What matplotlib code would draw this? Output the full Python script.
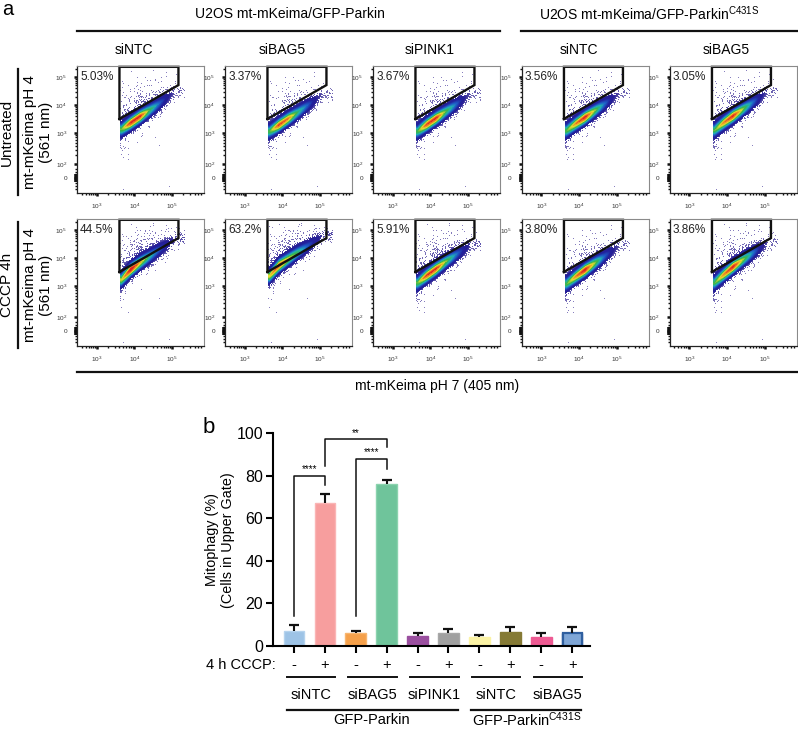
import numpy as np
import matplotlib
matplotlib.use("Agg")
import matplotlib.pyplot as plt
from matplotlib.colors import LinearSegmentedColormap

plt.rcParams['font.family'] = ['Liberation Sans', 'DejaVu Sans']
plt.rcParams['mathtext.default'] = 'regular'

W, H = 798, 729

# --- panel a ---
col_names = ["siNTC", "siBAG5", "siPINK1", "siNTC", "siBAG5"]
row_names = ["Untreated", "CCCP 4h"]
gate_pct = [["5.03%", "3.37%", "3.67%", "3.56%", "3.05%"],
            ["44.5%", "63.2%", "5.91%", "3.80%", "3.86%"]]
gate_x = [3.6, 3.6, 5.17, 5.17, 3.6]
gate_y = [3.5, 5.36, 5.36, 4.71, 3.5]

# The single events cannot be read from the picture, so each cloud is given by
# what can be estimated by eye: ridge height, colour level along the ridge and
# how much scatter sits above / below it
ridge_x = [3.65, 3.9, 4.15, 4.4, 4.65, 4.9, 5.1]
ridge_y = [[[3.12, 3.35, 3.58, 3.80, 4.03, 4.28, 4.50],
            [3.05, 3.27, 3.50, 3.72, 3.96, 4.20, 4.42],
            [3.05, 3.29, 3.52, 3.75, 3.98, 4.22, 4.44],
            [3.08, 3.32, 3.55, 3.78, 4.01, 4.25, 4.47],
            [3.10, 3.36, 3.60, 3.83, 4.06, 4.30, 4.52]],
           [[3.22, 3.58, 3.83, 4.05, 4.28, 4.50, 4.72],
            [3.35, 3.72, 3.95, 4.18, 4.40, 4.63, 4.82],
            [3.10, 3.36, 3.60, 3.85, 4.08, 4.30, 4.50],
            [3.08, 3.33, 3.57, 3.80, 4.03, 4.28, 4.50],
            [3.12, 3.40, 3.68, 3.92, 4.15, 4.38, 4.58]]]
ridge_level = [[[0.50, 0.88, 0.88, 0.52, 0.30, 0.10, 0.03],
                [0.48, 0.85, 0.78, 0.48, 0.30, 0.09, 0.03],
                [0.46, 0.84, 0.88, 0.55, 0.33, 0.09, 0.03],
                [0.46, 0.74, 0.90, 0.60, 0.32, 0.09, 0.03],
                [0.44, 0.74, 0.88, 0.60, 0.33, 0.10, 0.03]],
               [[0.58, 0.95, 0.70, 0.45, 0.27, 0.12, 0.05],
                [0.62, 0.88, 0.64, 0.48, 0.28, 0.12, 0.05],
                [0.48, 0.84, 0.86, 0.58, 0.36, 0.14, 0.04],
                [0.46, 0.76, 0.93, 0.62, 0.30, 0.10, 0.03],
                [0.44, 0.74, 0.90, 0.62, 0.36, 0.12, 0.03]]]
scatter_up = [[0.15, 0.13, 0.14, 0.15, 0.15], [0.15, 0.14, 0.17, 0.12, 0.14]]
scatter_down = [[0.08, 0.08, 0.09, 0.11, 0.13], [0.09, 0.08, 0.09, 0.11, 0.13]]

x_major = [3, 4, 5]
x_minor = [2.6, 2.7, 2.78, 2.85, 2.9, 2.95, 3.3, 3.48, 3.6, 3.7, 3.78, 3.85, 3.9, 3.95,
           4.3, 4.48, 4.6, 4.7, 4.78, 4.85, 4.9, 4.95, 5.3, 5.48, 5.6, 5.7, 5.78]
y_major = [1.89, 3, 4, 5]
y_major_labels = ["10$^{2}$", "10$^{3}$", "10$^{4}$", "10$^{5}$"]
y_minor = [1.0, 1.1, 1.2, 1.55, 1.62, 1.7, 2.2, 2.4, 2.55, 2.65, 2.75, 2.85, 2.92,
           3.3, 3.48, 3.6, 3.7, 3.78, 3.85, 3.92, 4.3, 4.48, 4.6, 4.7, 4.78, 4.85, 4.92, 5.3]

# --- panel b ---
bar_means = [7.0, 67.3, 6.2, 76.0, 4.8, 5.9, 4.4, 6.7, 4.4, 6.3]
bar_tops = [10.0, 71.5, 7.0, 78.0, 6.2, 8.1, 5.2, 8.8, 6.2, 9.0]
bar_colors = ['#9DC3E6', '#F79E9E', '#F5A04A', '#6FC49B', '#9A4F9F',
              '#A0A0A0', '#FBF3A5', '#857A35', '#EE5A93', '#7FA6D6']
bar_edges = ['#B5D3EE', '#FAB5B5', '#F8B670', '#8BD3AE', '#9A4F9F',
             '#A8A8A8', '#FBF3A5', '#857A35', '#EE5A93', '#2F5F9F']
cccp_signs = ['-', '+'] * 5
# left bar, right bar, left foot, height, right foot, stars
brackets = [(0, 1, 14, 80, 75.5, '****'),
            (2, 3, 14, 88, 83, '****'),
            (1, 3, 84.5, 97.3, 93.5, '**')]

jet = LinearSegmentedColormap.from_list('flow', [
    (0.0, '#2A1A8C'), (0.18, '#22229E'), (0.32, '#1F5FC8'), (0.45, '#1FB0B5'),
    (0.6, '#3CB54A'), (0.74, '#E4DE30'), (0.87, '#F08020'), (1.0, '#E02020')])


def ax_px(l, t, r, b):
    return fig.add_axes([l / W, 1 - b / H, (r - l) / W, (b - t) / H])


def halftone(n):
    # fixed threshold screen from a cell hash, so it has no visible lattice
    ix, iy = np.meshgrid(np.arange(n, dtype=np.int64), np.arange(n, dtype=np.int64))
    h = (ix * 73856093) ^ (iy * 19349663)
    h = (h ^ (h >> 13)) & 0xFFFFFFF
    h = (h * 12741261) & 0xFFFFFFF
    h = h ^ (h >> 11)
    return (h % 4096) / 4096


def flow_image(ry, lv, up, down):
    xs = np.linspace(2.47, 5.85, 127)
    ys = np.linspace(0.86, 5.39, 127)
    gx, gy = np.meshgrid(xs, ys)
    r = np.interp(gx, ridge_x, ry)
    level = np.interp(gx, ridge_x, lv)
    taper = np.interp(gx, ridge_x, [1, 1, 0.95, 0.7, 0.35, 0.1, 0.02])
    d = gy - r
    z = level * np.exp(-0.5 * (d / 0.145) ** 2)
    z = z + (d > 0) * up * taper * np.exp(-np.clip(d, 0, None) / 0.36)
    side = np.exp(-0.5 * ((gx - 3.62) / 0.13) ** 2)
    z = z + (d < 0) * (down * side * np.exp(np.clip(d, None, 0) / 0.3)
                       + 0.6 * down * taper * np.exp(np.clip(d, None, 0) / 0.22))
    z[gx < 3.62] = 0
    z[gx > 5.35] = 0
    z = np.clip(z, 0, 1)

    seen = np.clip(z / 0.1, 0, 1)
    rgba = jet(z)
    fade = (1 - seen)[..., None] * 0.45
    rgba[..., :3] = rgba[..., :3] * (1 - fade) + fade
    rgba[seen <= halftone(127)] = (1, 1, 1, 1)
    return rgba


fig = plt.figure(figsize=(W / 100, H / 100), dpi=100)

bg = fig.add_axes([0, 0, 1, 1])
bg.set_xlim(0, W)
bg.set_ylim(H, 0)
bg.axis('off')

col_left = [77, 225, 373, 521.5, 669.5]
row_top = [66, 219]
for i in range(2):
    for j in range(5):
        ax = ax_px(col_left[j], row_top[i], col_left[j] + 127, row_top[i] + 127)
        ax.imshow(flow_image(ridge_y[i][j], ridge_level[i][j], scatter_up[i][j], scatter_down[i][j]),
                  extent=[2.47, 5.85, 0.86, 5.39], origin='lower', aspect='auto',
                  interpolation='nearest')
        ax.plot(gate_x, gate_y, color='#111111', lw=1.7, solid_joinstyle='miter', clip_on=False)
        ax.set_xlim(2.47, 5.85)
        ax.set_ylim(0.86, 5.39)
        ax.text(0.025, 0.915, gate_pct[i][j], transform=ax.transAxes, fontsize=8.5,
                ha='left', va='center', color='#222222')
        for s in ['top', 'right']:
            ax.spines[s].set_color('#8A8A8A')
            ax.spines[s].set_linewidth(0.8)
        for s in ['left', 'bottom']:
            ax.spines[s].set_color('#222222')
            ax.spines[s].set_linewidth(0.9)
        ax.set_xticks(x_major)
        ax.set_xticklabels(["10$^{3}$", "10$^{4}$", "10$^{5}$"], fontsize=4.6, color='#333333')
        ax.set_xticks(x_minor, minor=True)
        ax.set_yticks(y_major + [1.39])
        ax.set_yticklabels(y_major_labels + ["0"], fontsize=4.6, color='#333333')
        ax.set_yticks(y_minor, minor=True)
        ax.tick_params(which='major', length=2.2, width=1.8, color='#111111')
        ax.tick_params(axis='x', which='major', pad=4)
        ax.tick_params(axis='y', which='major', pad=5)
        ax.tick_params(which='minor', length=1.5, width=1.0, color='#111111')
        # the 0 region of the biexponential axis shows as one thick mark
        ax.plot([2.45, 2.45], [1.25, 1.53], color='#111111', lw=2.6, clip_on=False,
                solid_capstyle='butt')

bg.plot([77, 500], [30.5, 30.5], color='#111111', lw=1.6)
bg.plot([521, 797], [30.5, 30.5], color='#111111', lw=1.6)
bg.text(290, 14, "U2OS mt-mKeima/GFP-Parkin", fontsize=10, ha='center', va='center')
bg.text(649, 14, "U2OS mt-mKeima/GFP-Parkin$^{C431S}$", fontsize=10, ha='center', va='center')
for j, name in enumerate(col_names):
    bg.text(col_left[j] + 57, 50, name, fontsize=10, ha='center', va='center')
for i, name in enumerate(row_names):
    t = row_top[i]
    bg.plot([18, 18], [t + 3, t + 129], color='#111111', lw=1.6)
    bg.text(7, t + 66, name, fontsize=11, rotation=90, ha='center', va='center')
    bg.text(30, t + 66, "mt-mKeima pH 4", fontsize=11, rotation=90, ha='center', va='center')
    bg.text(46, t + 66, "(561 nm)", fontsize=11, rotation=90, ha='center', va='center')
bg.plot([77, 797], [371.5, 371.5], color='#111111', lw=1.6)
bg.text(437, 386, "mt-mKeima pH 7 (405 nm)", fontsize=10, ha='center', va='center')
bg.text(2, 15, "a", fontsize=14.5, ha='left', va='baseline')
bg.text(203, 433, "b", fontsize=16, ha='left', va='baseline')

# bar chart
ax = ax_px(273, 433.3, 590, 646)
xpos = np.arange(len(bar_means))
ax.vlines(xpos, bar_means, bar_tops, color='#111111', lw=1.5)
ax.plot(xpos, bar_tops, ls='none', marker='_', ms=7.5, mew=1.6, color='#111111')
ax.bar(xpos, bar_means, width=0.67, color=bar_colors, edgecolor=bar_edges, linewidth=1.0)
ax.bar(xpos[-1:], bar_means[-1:], width=0.62, color=bar_colors[-1], edgecolor=bar_edges[-1], linewidth=1.6)
ax.set_xlim(-0.68, 9.58)
ax.set_ylim(0, 100)
ax.set_yticks([0, 20, 40, 60, 80, 100])
ax.set_xticks(xpos)
ax.set_xticklabels([])
ax.tick_params(axis='y', labelsize=11.5, length=5, width=1.5, pad=2)
ax.tick_params(axis='x', length=5, width=1.5)
for s in ['top', 'right']:
    ax.spines[s].set_visible(False)
for s in ['left', 'bottom']:
    ax.spines[s].set_linewidth(1.5)
ax.set_ylabel("Mitophagy (%)\n(Cells in Upper Gate)", fontsize=10.4, labelpad=1, linespacing=1.2)
for a, b, f1, top, f2, stars in brackets:
    ax.plot([a, a, b, b], [f1, top, top, f2], color='#111111', lw=1.1, clip_on=False)
    ax.text((a + b) / 2, top + 0.6, stars, fontsize=7, ha='center', va='bottom', clip_on=False)

bar_px = 294 + 30.9 * xpos
bg.text(276, 665, "4 h CCCP:", fontsize=10.5, ha='right', va='center')
for px, sign in zip(bar_px, cccp_signs):
    bg.text(px, 665, sign, fontsize=10.5, ha='center', va='center')
for k, name in enumerate(col_names):
    x0 = bar_px[2 * k] - 7.5
    x1 = bar_px[2 * k + 1] + 10
    bg.plot([x0, x1], [676.5, 676.5], color='#111111', lw=1.4)
    bg.text((x0 + x1) / 2, 695, name, fontsize=10.5, ha='center', va='center')
bg.plot([286.5, 458], [709.5, 709.5], color='#111111', lw=1.6)
bg.plot([471, 581], [709.5, 709.5], color='#111111', lw=1.6)
bg.text(372, 720, "GFP-Parkin", fontsize=10.5, ha='center', va='center')
bg.text(527, 720, "GFP-Parkin$^{C431S}$", fontsize=10.5, ha='center', va='center')

fig.savefig("out.png", dpi=100)
